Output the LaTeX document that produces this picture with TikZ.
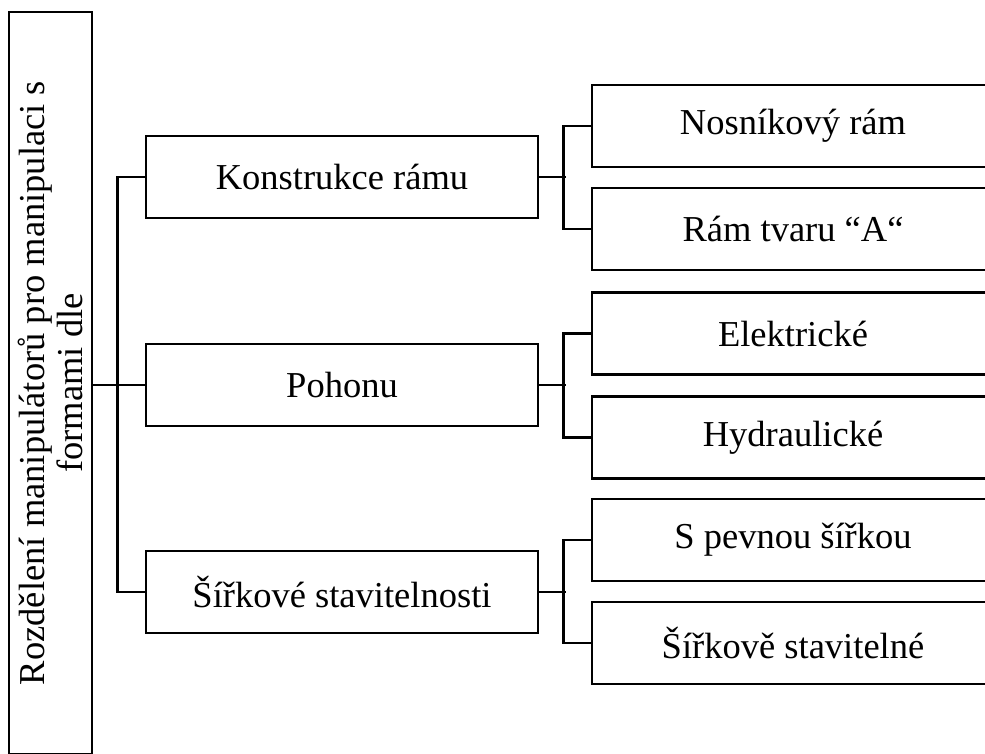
\documentclass[tikz,border=0pt]{standalone}
\usepackage{fontspec}
\setmainfont{Liberation Serif}
\usetikzlibrary{positioning, calc}

\tikzset{
    box/.style={draw, line width=2.6pt, minimum width=392pt, minimum height=82pt,
        inner sep=0pt, font=\fontsize{36.5}{38}\selectfont},
    leaf/.style={box, minimum width=402pt},
    link/.style={line width=2.6pt}
}

\begin{document}
\begin{tikzpicture}[x=1pt, y=-1pt]
    \useasboundingbox (0,0) rectangle (985,754);
    \clip (0,0) rectangle (985,754);

    % main box on the left
    \node[box, rotate=90, minimum width=742pt, minimum height=83pt, align=center] (root) at (50.5,383)
        {Rozdělení manipulátorů pro manipulaci s\\formami dle};

    % second level
    \node[box] (frame) at (342,177) {Konstrukce rámu};
    \node[box] (drive) at (342,385) {Pohonu};
    \node[box] (width) at (342,592) {Šířkové stavitelnosti};

    % third level
    \node[leaf] (beam)  at (793,126)   {Nosníkový rám};
    \node[leaf] (aframe) at (793,229)  {Rám tvaru “A“};
    \node[leaf] (elec)  at (793,333.5) {Elektrické};
    \node[leaf] (hydr)  at (793,437.5) {Hydraulické};
    \node[leaf] (fixed) at (793,540)   {S pevnou šířkou};
    \node[leaf] (adj)   at (793,643)   {Šířkově stavitelné};

    % connectors
    \draw[link] (drive.west -| root.south) -- (drive.west);
    \draw[link] (frame.west) -- ++(-27,0) |- (width.west);

    \draw[link] (frame.east) -- ++(27,0);
    \draw[link] (drive.east) -- ++(27,0);
    \draw[link] (width.east) -- ++(27,0);

    \draw[link] (beam.west) -- ++(-27,0) |- (aframe.west);
    \draw[link] (elec.west) -- ++(-27,0) |- (hydr.west);
    \draw[link] (fixed.west) -- ++(-27,0) |- (adj.west);
\end{tikzpicture}
\end{document}
